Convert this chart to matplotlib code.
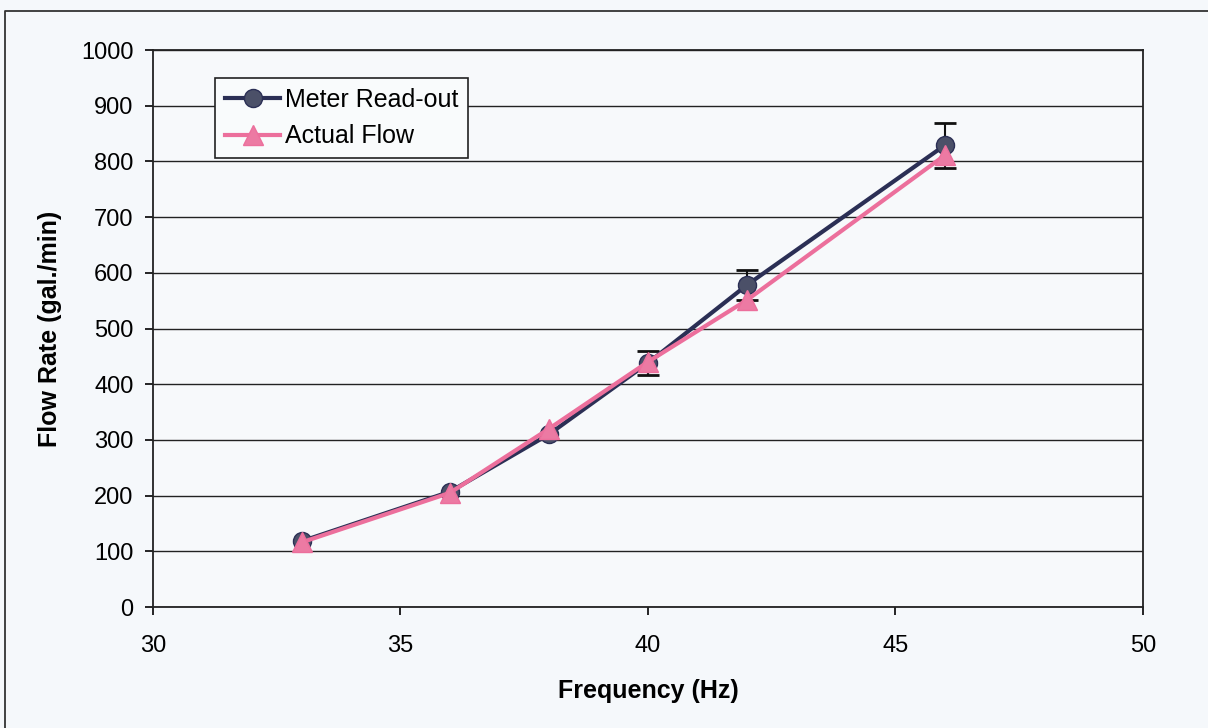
import numpy as np
import matplotlib.pyplot as plt
from matplotlib.lines import Line2D

plt.rcParams['font.family'] = ['Liberation Sans', 'DejaVu Sans']

# data
freq = [33, 36, 38, 40, 42, 46]
meter = [118, 207, 310, 438, 578, 829]
meter_err = [0, 0, 0, 22, 27, 40]
actual = [116, 205, 320, 440, 551, 811]

xticks = [30, 35, 40, 45, 50]
yticks = list(range(0, 1001, 100))

navy = '#2b2f55'
pink = '#ec6f9c'

fig = plt.figure(figsize=(12.08, 7.28), dpi=100, facecolor='#f5f8fb')
ax = fig.add_axes([0.1267, 0.1662, 0.8193, 0.7651])
ax.set_facecolor('#f7f9fb')

# outer frame of the chart (only top and left edges fall inside the image)
fig.add_artist(Line2D([5 / 1208, 5 / 1208, 1], [0, 1 - 11 / 728, 1 - 11 / 728],
                      transform=fig.transFigure, color='#333333', lw=1.3))

# error bars only where they are visible
f = np.array(freq)
m = np.array(meter)
e = np.array(meter_err)
show = e > 0
ax.errorbar(f[show], m[show], yerr=e[show], fmt='none', ecolor='#111111',
            elinewidth=1.5, capsize=8, capthick=2, zorder=2)
ax.plot(freq, meter, color=navy, lw=3, marker='o', markersize=13,
        markerfacecolor='#4b5068', markeredgecolor=navy,
        label='Meter Read-out', zorder=3)
ax.plot(freq, actual, color=pink, lw=3, marker='^', markersize=15,
        markerfacecolor='#ec7aa3', markeredgecolor=pink,
        label='Actual Flow', zorder=4)

ax.set_xlim(30, 50)
ax.set_ylim(0, 1000)
ax.set_xticks(xticks)
ax.set_yticks(yticks)
ax.grid(axis='y', color='#222222', lw=1)
ax.set_axisbelow(True)
ax.tick_params(labelsize=17, direction='out', length=6, width=1.2)
ax.tick_params(axis='x', pad=14)
ax.tick_params(axis='y', pad=8)
for s in ax.spines.values():
    s.set_linewidth(1.3)
    s.set_color('#222222')

ax.set_xlabel('Frequency (Hz)', fontsize=18, fontweight='bold', labelpad=16)
ax.set_ylabel('Flow Rate (gal./min)', fontsize=18, fontweight='bold', labelpad=14)

leg = ax.legend(loc='upper left', bbox_to_anchor=(0.0626, 0.95), borderaxespad=0,
                fontsize=18, frameon=True, fancybox=False, edgecolor='#222222',
                facecolor='#f9fbfc', framealpha=1, handlelength=2.2,
                borderpad=0.4, labelspacing=0.5, handletextpad=0.2)
leg.get_frame().set_linewidth(1.2)

fig.savefig('out.png', dpi=100, facecolor=fig.get_facecolor())
